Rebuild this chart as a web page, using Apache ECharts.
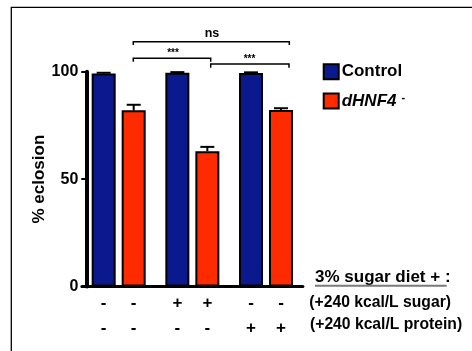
<!DOCTYPE html>
<html>
<head>
<meta charset="utf-8">
<script src="https://cdn.jsdelivr.net/npm/echarts@6/dist/echarts.min.js"></script>
<style>
html,body{margin:0;padding:0;background:#fff;}
#c{width:472px;height:351px;}
</style>
</head>
<body>
<div id="c"></div>
<script>
// ---- data ----
const groups = ['g1', 'g2', 'g3'];
const seriesNames = ['Control', 'dHNF4'];
const controlMean = [99.2, 99.5, 99.4];
const controlErr = [0.3, 0.3, 0.3];
const hnfMean = [82.0, 63.0, 82.2];
const hnfErr = [2.6, 2.0, 0.8];
const sugarRow = ['-', '-', '+', '+', '-', '-'];
const proteinRow = ['-', '-', '-', '-', '+', '+'];
const yTickValues = [0, 50, 100];
const rowLabels = ['(+240 kcal/L sugar)', '(+240 kcal/L protein)'];
const dietTitle = '3% sugar diet + :';
const yTitle = '% eclosion';

// ---- style ----
const FONT = '"Liberation Sans", Arial, Helvetica, sans-serif';
const BLUE = '#0a1a8e';
const RED = '#ff2b00';
const BAR_W = 24;
const BAR_GAP = 0.25;
const HALF_SPACING = BAR_W * (1 + BAR_GAP) / 2;

const chart = echarts.init(document.getElementById('c'), null, {renderer: 'canvas'});

function signLabel(idx) {
  return '{s|' + sugarRow[idx] + '}\n{s|' + proteinRow[idx] + '}';
}

function errData(means, errs) {
  return means.map((m, i) => [i, m, errs[i]]);
}

function errRender(sign) {
  return function (params, api) {
    const cat = api.value(0), m = api.value(1), e = api.value(2);
    const p0 = api.coord([cat, m]);
    const p1 = api.coord([cat, m + e]);
    const x = p0[0] + sign * HALF_SPACING;
    const capHalf = 7;
    return {
      type: 'group',
      children: [
        {type: 'line', shape: {x1: x, y1: p0[1], x2: x, y2: p1[1]}, style: {stroke: '#000', lineWidth: 2}},
        {type: 'line', shape: {x1: x - capHalf, y1: p1[1], x2: x + capHalf, y2: p1[1]}, style: {stroke: '#000', lineWidth: 2}}
      ]
    };
  };
}

const option = {
  animation: false,
  backgroundColor: '#fff',
  textStyle: {fontFamily: FONT},
  grid: {left: 81.85, top: 71.7, width: 221, height: 214.8, containLabel: false},
  xAxis: {
    type: 'category',
    data: groups,
    axisLine: {lineStyle: {color: '#000', width: 3}},
    axisTick: {show: false},
    axisLabel: {show: false},
    splitLine: {show: false}
  },
  yAxis: {
    type: 'value',
    min: 0, max: 100, interval: 50,
    offset: -4.45,
    name: yTitle,
    nameLocation: 'middle',
    nameGap: 32,
    nameRotate: 90,
    nameTextStyle: {fontFamily: FONT, fontWeight: 'bold', fontSize: 17, color: '#000'},
    axisLine: {show: true, lineStyle: {color: '#000', width: 4}},
    axisTick: {show: true, length: 5, lineStyle: {color: '#000', width: 2}},
    axisLabel: {
      margin: 8, color: '#000', fontWeight: 'bold', fontSize: 16, fontFamily: FONT,
      formatter: v => (yTickValues.indexOf(v) >= 0 ? String(v) : '')
    },
    splitLine: {show: false}
  },
  legend: {
    orient: 'vertical',
    left: 317.7, top: 58.3,
    itemWidth: 15, itemHeight: 15, itemGap: 12.2,
    icon: 'rect',
    itemStyle: {borderColor: '#000', borderWidth: 2},
    data: seriesNames,
    formatter: n => n === 'dHNF4' ? '{i|dHNF4}{s|-}' : '{n|' + n + '}',
    textStyle: {
      color: '#000', fontFamily: FONT, fontWeight: 'bold', fontSize: 17, padding: [0, 0, 0, -2],
      rich: {
        n: {fontFamily: FONT, fontWeight: 'bold', fontSize: 17, lineHeight: 17, color: '#000'},
        i: {fontFamily: FONT, fontWeight: 'bold', fontStyle: 'italic', fontSize: 17, lineHeight: 17, color: '#000'},
        s: {fontFamily: FONT, fontWeight: 'bold', fontSize: 11, lineHeight: 6, color: '#000', verticalAlign: 'top', padding: [0, 0, 0, 5]}
      }
    }
  },
  series: [
    {
      name: seriesNames[0], type: 'bar', data: controlMean,
      barWidth: BAR_W, barGap: (BAR_GAP * 100) + '%',
      itemStyle: {color: BLUE, borderColor: '#000', borderWidth: 2},
      label: {
        show: true, position: 'bottom', distance: 4,
        formatter: p => signLabel(p.dataIndex * 2),
        rich: {s: {fontFamily: FONT, fontWeight: 'bold', fontSize: 17, lineHeight: 25, color: '#000', align: 'center'}}
      }
    },
    {
      name: seriesNames[1], type: 'bar', data: hnfMean,
      barWidth: BAR_W, barGap: (BAR_GAP * 100) + '%',
      itemStyle: {color: RED, borderColor: '#000', borderWidth: 2},
      label: {
        show: true, position: 'bottom', distance: 4,
        formatter: p => signLabel(p.dataIndex * 2 + 1),
        rich: {s: {fontFamily: FONT, fontWeight: 'bold', fontSize: 17, lineHeight: 25, color: '#000', align: 'center'}}
      }
    },
    {type: 'custom', renderItem: errRender(-1), data: errData(controlMean, controlErr), z: 5, silent: true},
    {type: 'custom', renderItem: errRender(1), data: errData(hnfMean, hnfErr), z: 5, silent: true}
  ],
  graphic: [
    // frame
    {type: 'polyline', shape: {points: [[11.3, 351], [11.3, 7.3], [472, 7.3]]}, style: {stroke: '#000', lineWidth: 1.3, fill: null}, z: 10},
    // significance brackets
    {type: 'polyline', shape: {points: [[133.3, 45], [133.3, 41.7], [289.3, 41.7], [289.3, 45]]}, style: {stroke: '#000', lineWidth: 1.5, fill: null}, z: 10},
    {type: 'text', x: 212, y: 33.5, style: {text: 'ns', font: 'bold 12.5px ' + FONT, fill: '#000', textAlign: 'center', textVerticalAlign: 'middle'}, z: 10},
    {type: 'polyline', shape: {points: [[133.3, 61.7], [133.3, 58.3], [210.7, 58.3], [210.7, 61.7]]}, style: {stroke: '#000', lineWidth: 1.5, fill: null}, z: 10},
    {type: 'text', x: 173, y: 53, style: {text: '***', font: 'bold 10px ' + FONT, fill: '#000', textAlign: 'center', textVerticalAlign: 'middle'}, z: 10},
    {type: 'polyline', shape: {points: [[210.7, 67.7], [210.7, 64], [289, 64], [289, 67.7]]}, style: {stroke: '#000', lineWidth: 1.5, fill: null}, z: 10},
    {type: 'text', x: 249.5, y: 59, style: {text: '***', font: 'bold 10px ' + FONT, fill: '#000', textAlign: 'center', textVerticalAlign: 'middle'}, z: 10},
    // diet annotation
    {type: 'text', x: 315, y: 277, style: {text: dietTitle, font: 'bold 17px ' + FONT, fill: '#000', textAlign: 'left', textVerticalAlign: 'middle'}, z: 10},
    {type: 'line', shape: {x1: 315, y1: 285.7, x2: 446.7, y2: 285.7}, style: {stroke: '#7a7a7a', lineWidth: 2}, z: 10},
    {type: 'text', x: 309.3, y: 302.7, style: {text: rowLabels[0], font: 'bold 15.7px ' + FONT, fill: '#000', textAlign: 'left', textVerticalAlign: 'middle'}, z: 10},
    {type: 'text', x: 310, y: 325, style: {text: rowLabels[1], font: 'bold 15.7px ' + FONT, fill: '#000', textAlign: 'left', textVerticalAlign: 'middle'}, z: 10}
  ]
};
chart.setOption(option);
</script>
</body>
</html>
